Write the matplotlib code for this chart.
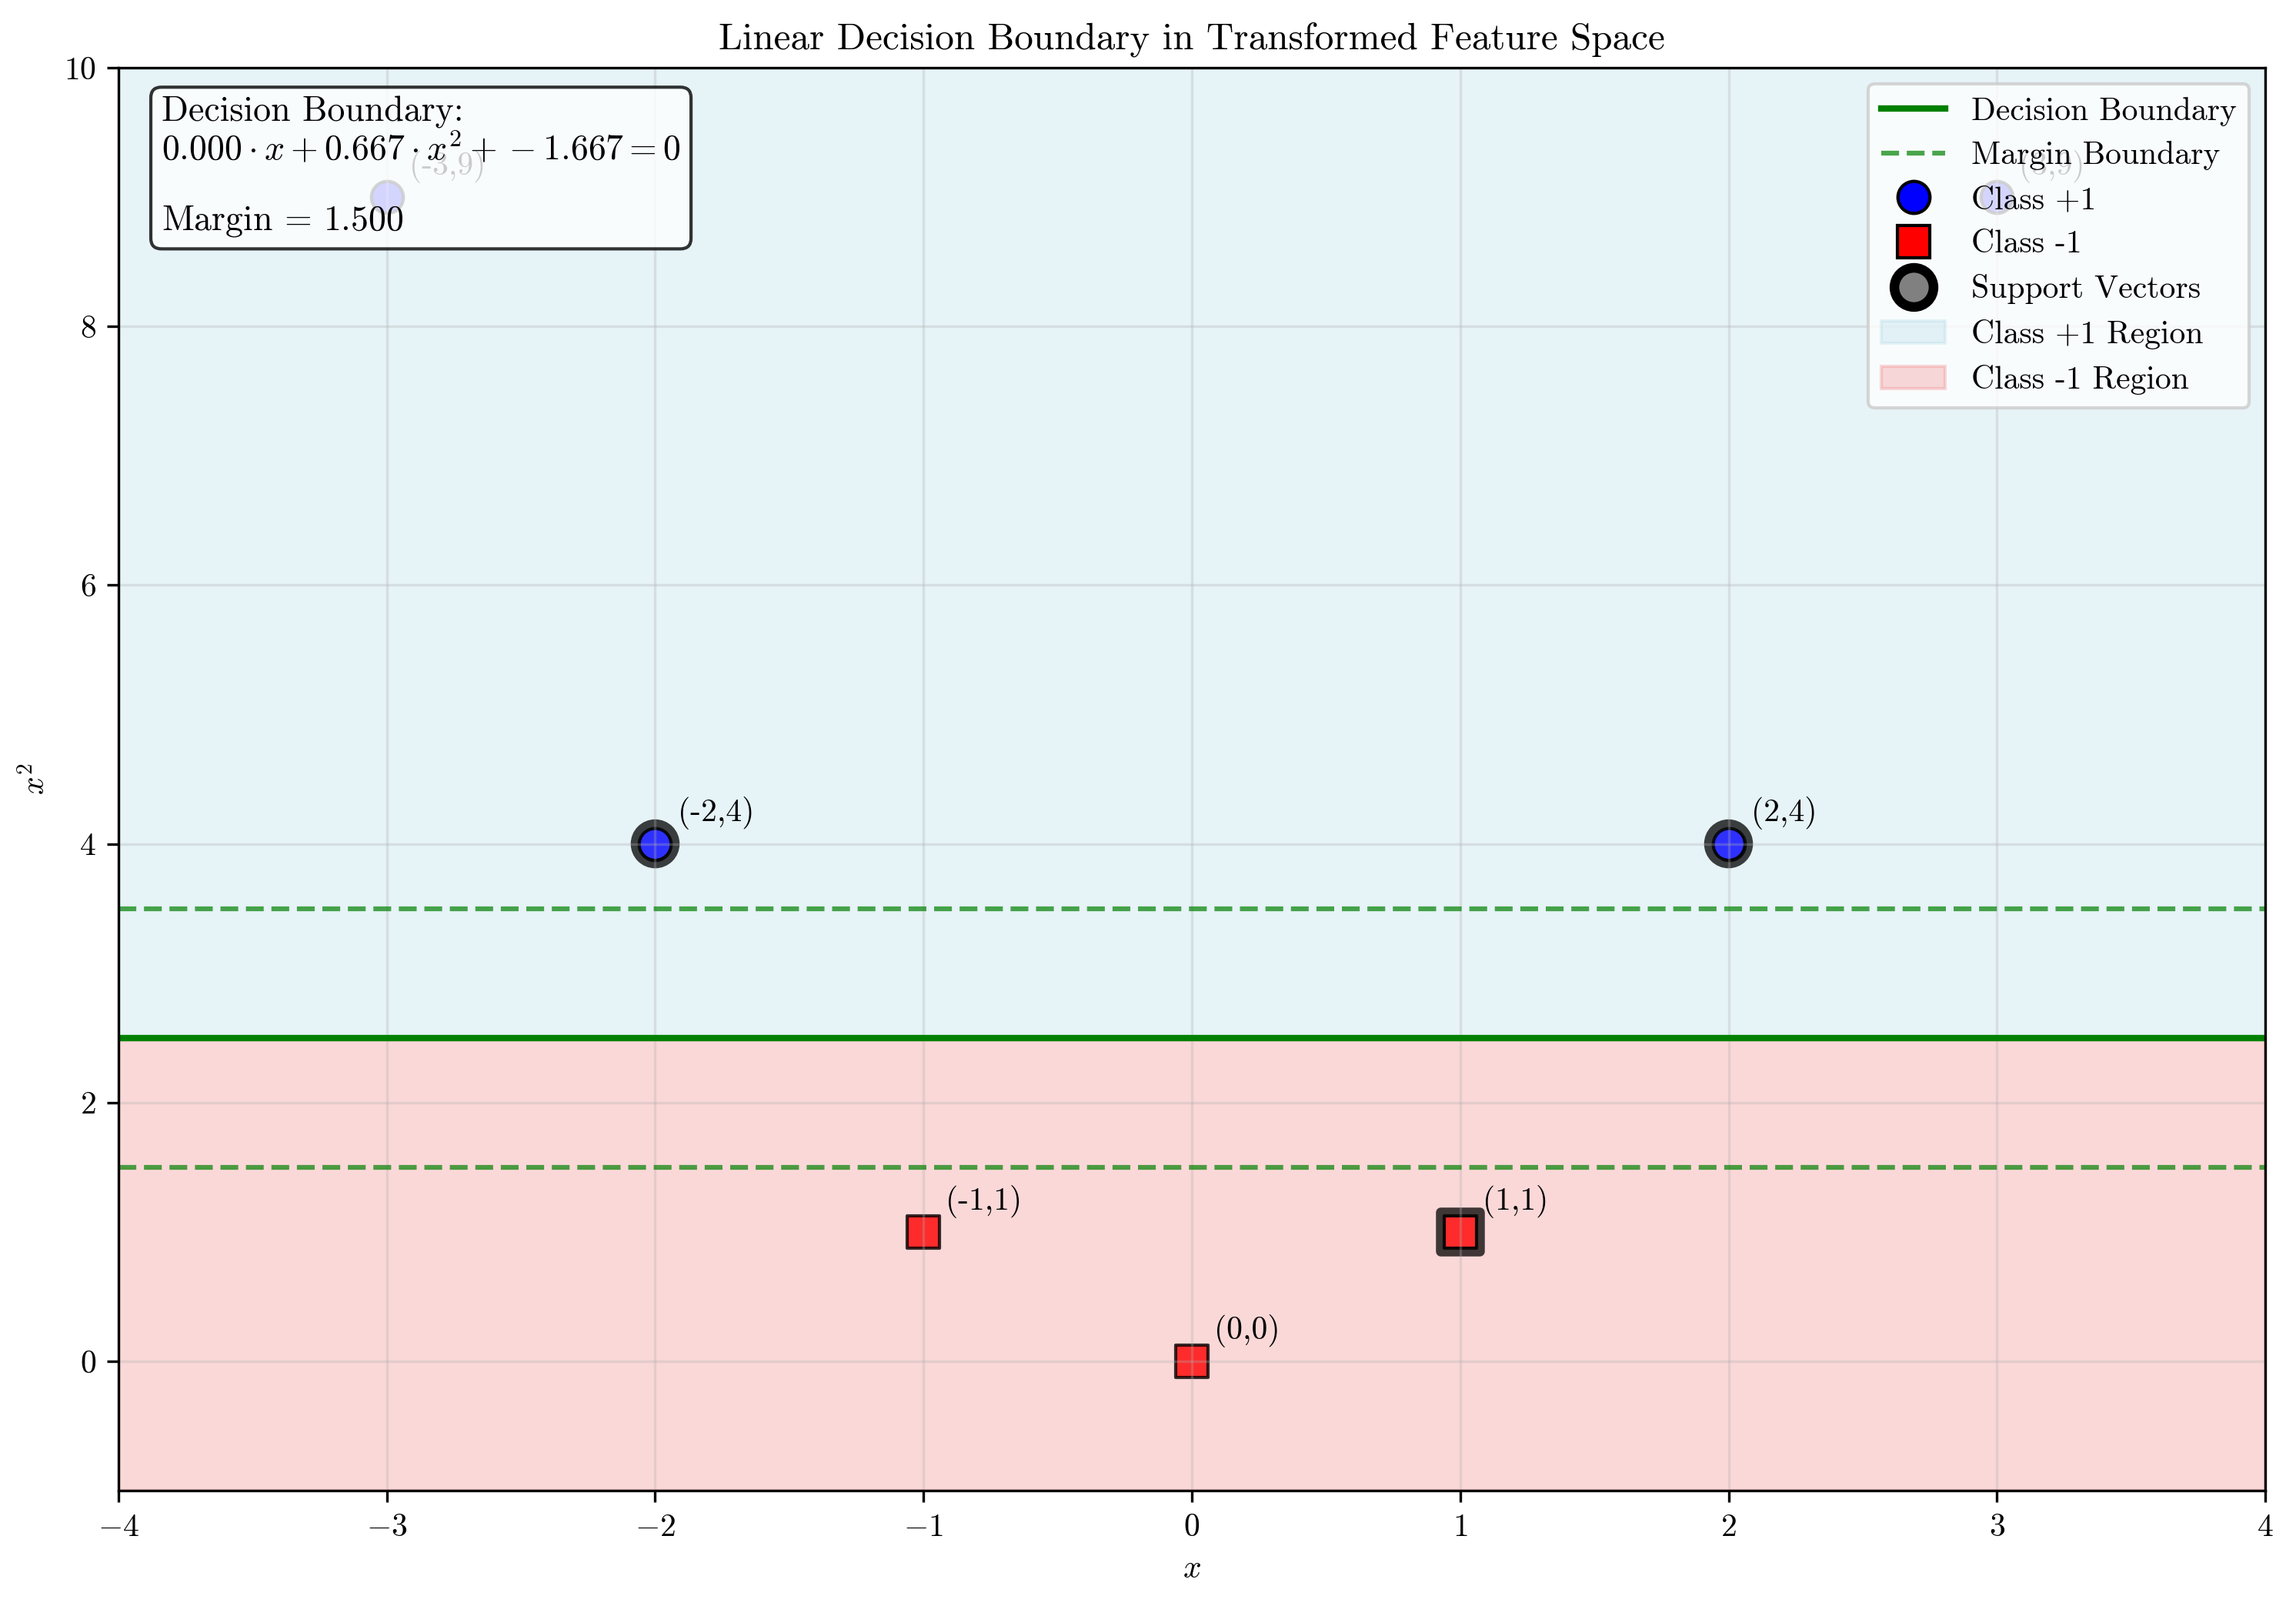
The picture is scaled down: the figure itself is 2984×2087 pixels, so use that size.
import matplotlib
matplotlib.use('Agg')
import matplotlib.pyplot as plt
from matplotlib.lines import Line2D
from matplotlib.patches import Patch

plt.rcParams['font.family'] = 'serif'
plt.rcParams['font.serif'] = ['cmr10', 'DejaVu Serif']
plt.rcParams['mathtext.fontset'] = 'cm'
plt.rcParams['axes.formatter.use_mathtext'] = True

# points in transformed space (x, x^2)
pos_x = [-3, -2, 2, 3]
pos_y = [9, 4, 4, 9]
neg_x = [-1, 0, 1]
neg_y = [1, 0, 1]

sv_pos_x = [-2, 2]
sv_pos_y = [4, 4]
sv_neg_x = [1]
sv_neg_y = [1]

w = [0.000, 0.667]
b = -1.667
boundary = 2.5
margin_lines = [1.5, 3.5]
margin_text = 1.500

x_range = [-4, 4]
y_range = [-1, 10]

fig = plt.figure(figsize=(2984 / 300, 2087 / 300), dpi=300)
ax = fig.add_subplot(111)
fig.subplots_adjust(left=0.0516, right=0.9866, top=0.9578, bottom=0.0719)

ax.fill_between(x_range, boundary, y_range[1], color='lightblue', alpha=0.3)
ax.fill_between(x_range, y_range[0], boundary, color='lightcoral', alpha=0.3)

ax.plot(x_range, [boundary, boundary], color='green', lw=2)
for m in margin_lines:
    ax.plot(x_range, [m, m], color='green', ls='--', lw=1.5, alpha=0.7)

ax.scatter(pos_x, pos_y, s=100, c='blue', marker='o', edgecolors='black', linewidths=1, alpha=0.8)
ax.scatter(neg_x, neg_y, s=100, c='red', marker='s', edgecolors='black', linewidths=1, alpha=0.8)
ax.scatter(sv_pos_x, sv_pos_y, s=150, facecolors='none', marker='o', edgecolors='black', linewidths=3, alpha=0.75)
ax.scatter(sv_neg_x, sv_neg_y, s=150, facecolors='none', marker='s', edgecolors='black', linewidths=3, alpha=0.75)

for px, py in zip(pos_x + neg_x, pos_y + neg_y):
    ax.annotate(f'({px},{py})', (px, py), xytext=(7, 7), textcoords='offset points', fontsize=10)

ax.set_xlim(x_range)
ax.set_ylim(y_range)
ax.set_xlabel('$x$')
ax.set_ylabel('$x^2$')
ax.set_title('Linear Decision Boundary in Transformed Feature Space', fontsize=11.8)
ax.grid(True, alpha=0.3)

eq = (f'Decision Boundary:\n${w[0]:.3f} \\cdot x + {w[1]:.3f} \\cdot x^2 + {b:.3f} = 0$'
      f'\n\nMargin = ${margin_text:.3f}$')
ax.text(0.02, 0.98, eq, transform=ax.transAxes, fontsize=11, va='top', linespacing=1.08,
        bbox=dict(boxstyle='round', facecolor='white', alpha=0.8))

handles = [
    Line2D([], [], color='green', lw=2),
    Line2D([], [], color='green', ls='--', lw=1.5, alpha=0.7),
    Line2D([], [], ls='none', marker='o', markersize=10, markerfacecolor='blue', markeredgecolor='black'),
    Line2D([], [], ls='none', marker='s', markersize=10, markerfacecolor='red', markeredgecolor='black'),
    Line2D([], [], ls='none', marker='o', markersize=12.2, markerfacecolor='gray', markeredgecolor='black', markeredgewidth=3),
    Patch(facecolor='lightblue', edgecolor='lightblue', alpha=0.3),
    Patch(facecolor='lightcoral', edgecolor='lightcoral', alpha=0.3),
]
labels = ['Decision Boundary', 'Margin Boundary', 'Class +1', 'Class -1', 'Support Vectors',
          'Class +1 Region', 'Class -1 Region']
ax.legend(handles, labels, loc='upper right', fontsize=10, labelspacing=0.48)

fig.savefig('out.png', dpi=300)
